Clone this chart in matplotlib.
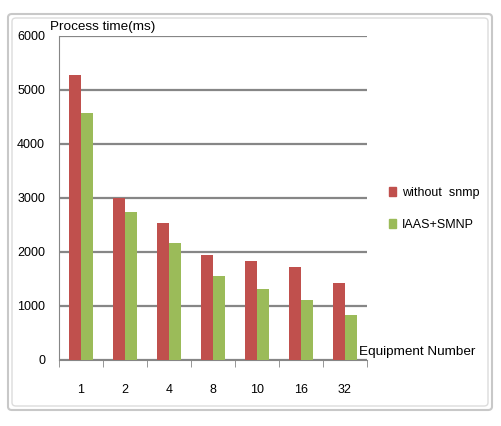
import matplotlib
matplotlib.use("Agg")
import matplotlib.pyplot as plt
from matplotlib.patches import FancyBboxPatch, Patch
import numpy as np

categories = ["1", "2", "4", "8", "10", "16", "32"]
without_snmp = [5270, 3000, 2530, 1940, 1830, 1720, 1420]
iaas_smnp = [4580, 2740, 2160, 1550, 1310, 1120, 830]

red = "#C0504D"
green = "#9BBB59"
grey = "#868686"

plt.rcParams["font.family"] = ["Liberation Sans", "DejaVu Sans"]

fig = plt.figure(figsize=(5.01, 4.26), dpi=100)

# chart frame like an excel chart object
fig.patches.append(FancyBboxPatch((8 / 501, 1 - 410 / 426), 484 / 501, 396 / 426,
                                  boxstyle="round,pad=0,rounding_size=0.008",
                                  transform=fig.transFigure, fill=False,
                                  edgecolor="#c8c8c8", lw=1.5))
fig.patches.append(FancyBboxPatch((12 / 501, 1 - 406 / 426), 476 / 501, 388 / 426,
                                  boxstyle="round,pad=0,rounding_size=0.008",
                                  transform=fig.transFigure, fill=False,
                                  edgecolor="#dcdcdc", lw=1.0))

ax = fig.add_axes([59 / 501, 1 - 360 / 426, 308 / 501, 324 / 426])

x = np.arange(len(categories))
w = 0.28
ax.bar(x - w / 2, without_snmp, w, color=red, zorder=3)
ax.bar(x + w / 2, iaas_smnp, w, color=green, zorder=3)

ax.set_xlim(-0.5, len(categories) - 0.5)
ax.set_ylim(0, 6000)
ax.set_yticks(range(0, 6001, 1000))
ax.yaxis.grid(True, color=grey, lw=1.6, zorder=0)
ax.tick_params(axis="y", length=0, pad=10, labelsize=9)

ax.set_xticks(x)
ax.set_xticklabels(categories)
ax.set_xticks(np.arange(-0.5, len(categories), 1), minor=True)
ax.tick_params(axis="x", which="major", length=0, pad=17, labelsize=9)
ax.tick_params(axis="x", which="minor", length=5, color=grey, direction="out")

for s in ["top", "right"]:
    ax.spines[s].set_visible(False)
ax.spines["left"].set_color(grey)
ax.spines["bottom"].set_color(grey)

fig.text(50 / 501, 1 - 27 / 426, "Process time(ms)", fontsize=9.7, va="center", ha="left")
fig.text(359 / 501, 1 - 352 / 426, "Equipment Number", fontsize=9.7, va="center", ha="left")

handles = [Patch(color=red, label="without  snmp"), Patch(color=green, label="IAAS+SMNP")]
fig.legend(handles=handles, loc="center left", bbox_to_anchor=(378 / 501, 1 - 209 / 426),
           frameon=False, fontsize=9, handlelength=0.5, handleheight=0.7,
           handletextpad=0.5, labelspacing=1.6)

fig.savefig("out.png", dpi=100)
